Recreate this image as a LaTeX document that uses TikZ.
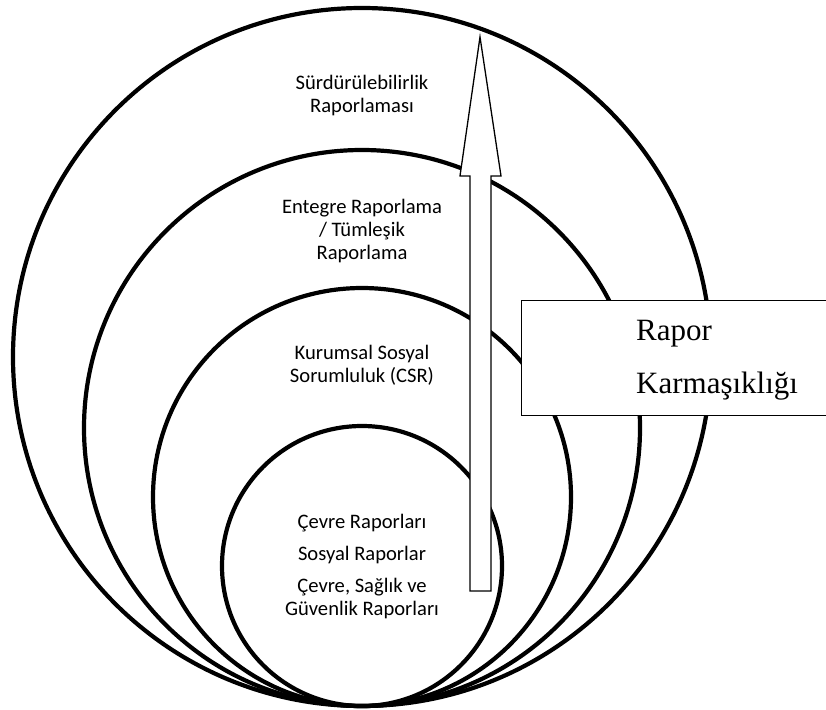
\documentclass[tikz,border=0pt]{standalone}
\usepackage{fontspec}
\setmainfont{Liberation Serif}
\setsansfont{Carlito}
\begin{document}
\begin{tikzpicture}[x=1pt,y=-1pt,
  ring/.style={circle, draw, line width=4.2pt, inner sep=0pt, minimum size=#1},
  ringlabel/.style={font=\sffamily\fontsize{20.6}{23}\selectfont, align=center, anchor=base, inner sep=0pt},
  growth/.style={draw, line width=1.3pt, fill=white, line join=miter},
  panel/.style={draw, fill=white, line width=1.3pt, inner sep=0pt, anchor=north west}]
\useasboundingbox (0,0) rectangle (826,709);
\clip (0,0) rectangle (826,709);

% nested report levels, all touching at the bottom
\node[ring=698pt] (sust)  at (362,357) {};
\node[ring=556pt] (integ) at (362,428) {};
\node[ring=418pt] (csr)   at (362,497) {};
\node[ring=280pt] (env)   at (362,566) {};

% upward arrow of growing complexity
\draw[growth] (470,591) -- (470,176) -- (460,176) -- (480,37) -- (501,176)
  -- (491,176) -- (491,591) -- cycle;

% side panel
\node[panel, minimum width=330pt, minimum height=115pt] (cbox) at (521,300) {};
\node[font=\fontsize{31}{53}\selectfont, align=left, anchor=base west, inner sep=0pt]
  (clabel) at (636,393) {Rapor\\Karmaşıklığı};

% level labels
\node[ringlabel] (t1) at (362,112) {Sürdürülebilirlik\\Raporlaması};
\node[ringlabel] (t2) at (362,259) {Entegre Raporlama\\/ Tümleşik\\Raporlama};
\node[ringlabel] (t3) at (362,382) {Kurumsal Sosyal\\Sorumluluk (CSR)};
\node[ringlabel] (t4) at (362,615) {Çevre Raporları\\[9pt]Sosyal Raporlar\\[9pt]Çevre, Sağlık ve\\Güvenlik Raporları};
\end{tikzpicture}
\end{document}
